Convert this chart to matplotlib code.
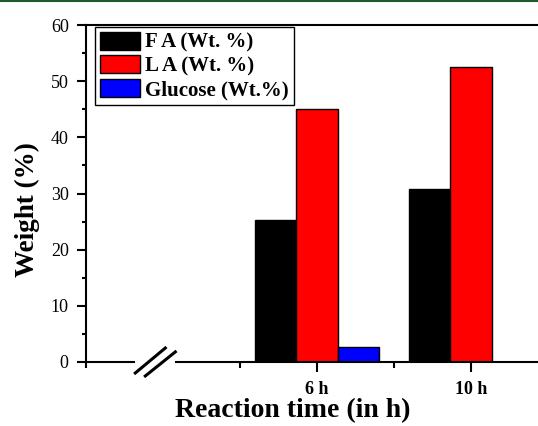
import matplotlib
matplotlib.use("Agg")
import matplotlib.pyplot as plt
from matplotlib.lines import Line2D
from matplotlib.ticker import MultipleLocator, FixedLocator
import numpy as np

# ---- data ----
times = ["6 h", "10 h"]
fa = [25.3, 30.8]
la = [45.0, 52.5]
glucose = [2.7, 0.0]
series_labels = ["F A (Wt. %)", "L A (Wt. %)", "Glucose (Wt.%)"]
series_colors = ["#000000", "#ff0000", "#0000ff"]
yticks = [0, 10, 20, 30, 40, 50, 60]

W, H = 538, 426
fig = plt.figure(figsize=(W / 100, H / 100), dpi=100)
plt.rcParams['font.family'] = ['Liberation Serif', 'DejaVu Serif']

left, right, top, bottom = 86, 538, 25, 362
ax = fig.add_axes([left / W, 1 - bottom / H, (right - left) / W, (bottom - top) / H])

pos = np.arange(1, len(times) + 1)
bw = 0.27
for i, (vals, lab, col) in enumerate(zip([fa, la, glucose], series_labels, series_colors)):
    ax.bar(pos + (i - 1) * bw, vals, width=bw, color=col, edgecolor="black",
           linewidth=1.0, label=lab, zorder=3)

ax.set_xlim(-0.5, 2.435)
ax.set_ylim(0, 60)

# ticks
ax.set_xticks(pos)
ax.set_xticklabels(times, fontsize=13, fontweight="bold")
ax.xaxis.set_minor_locator(FixedLocator([-0.5, 0.5, 1.5]))
ax.set_yticks(yticks)
ax.set_yticklabels([str(v) for v in yticks], fontsize=13)
ax.yaxis.set_minor_locator(MultipleLocator(5))
ax.tick_params(axis="x", which="major", direction="out", length=7, width=1.5, pad=7)
ax.tick_params(axis="x", which="minor", direction="out", length=4, width=1.5)
ax.tick_params(axis="y", which="major", direction="out", length=6.5, width=1.5, pad=6)
ax.tick_params(axis="y", which="minor", direction="out", length=3, width=1.5)
ax.tick_params(right=False, top=False)

for s in ["left", "top"]:
    ax.spines[s].set_linewidth(1.5)
ax.spines["right"].set_visible(False)
ax.spines["bottom"].set_visible(False)

# broken x-axis line
ax.plot([-0.5, -0.19], [0, 0], color="black", lw=1.5, clip_on=False, zorder=4)
ax.plot([0.087, 2.435], [0, 0], color="black", lw=1.5, clip_on=False, zorder=4)
ax.plot([-0.18, 0.015], [-1.96, 2.49], color="black", lw=2.2, clip_on=False, zorder=4)
ax.plot([-0.115, 0.08], [-2.49, 1.8], color="black", lw=2.2, clip_on=False, zorder=4)

# labels
fig.text(27 / W, 1 - 210 / H, "Weight (%)", rotation=90, ha="center", va="center",
         fontsize=19.5, fontweight="bold")
fig.text(293 / W, 1 - 411 / H, "Reaction time (in h)", ha="center", va="center",
         fontsize=20, fontweight="bold")

# legend
leg = ax.legend(loc="upper left", bbox_to_anchor=(95 / W, 1 - 27 / H),
                bbox_transform=fig.transFigure, borderaxespad=0,
                fancybox=False, shadow=False, framealpha=1,
                edgecolor="black", handlelength=1.95, handleheight=0.95,
                handletextpad=0.25, labelspacing=0.12, borderpad=0.22,
                prop={"family": "Liberation Serif", "weight": "bold", "size": 15})
leg.get_frame().set_linewidth(1.0)

# green page rule at top
fig.add_artist(Line2D([0, 1], [1 - 1 / H, 1 - 1 / H], transform=fig.transFigure,
                      color="#1d5a2c", lw=1.5))

fig.savefig("out.png", dpi=100)
